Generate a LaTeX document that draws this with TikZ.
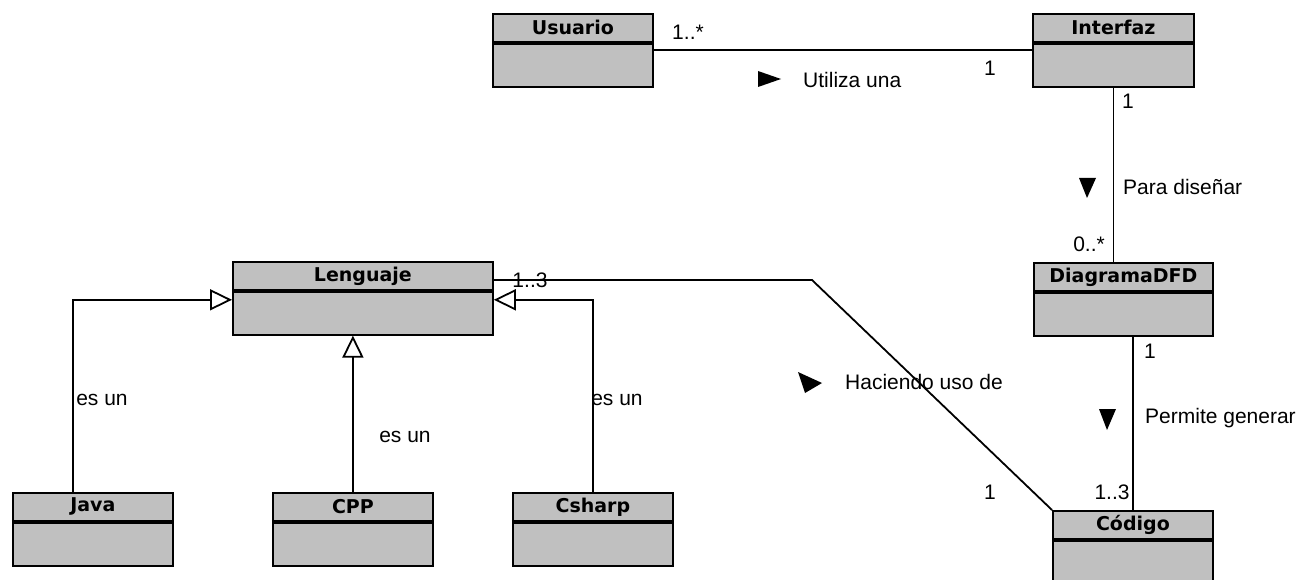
\documentclass[tikz,border=0pt]{standalone}
\usepackage{fontspec}
\setmainfont{Liberation Sans}
\newfontfamily\headfont{DejaVu Sans}
\usetikzlibrary{arrows.meta}
\definecolor{classgray}{RGB}{192,192,192}
\tikzset{
    head/.style={draw, line width=1.8pt, fill=classgray, anchor=north west,
        minimum height=28pt, inner sep=0pt,
        font=\headfont\bfseries\fontsize{19}{21}\selectfont},
    body/.style={draw, line width=1.8pt, fill=classgray, anchor=north,
        minimum height=43pt, inner sep=0pt},
    assoc/.style={line width=1.8pt},
    gen/.style={line width=1.8pt, -{Triangle[open, length=22pt, width=21pt, fill=white]}},
    lbl/.style={font=\fontsize{21}{24}\selectfont, inner sep=0pt},
}
\begin{document}
\begin{tikzpicture}[x=1pt, y=-1pt]
    \useasboundingbox (0,0) rectangle (1298,580);

    % classes
    \node[head, minimum width=160pt] (usuario) at (492,13) {Usuario};
    \node[body, minimum width=160pt] (usuarioB) at (usuario.south) {};
    \node[head, minimum width=161pt] (interfaz) at (1032,13) {Interfaz};
    \node[body, minimum width=161pt] (interfazB) at (interfaz.south) {};
    \node[head, minimum width=179pt] (diagrama) at (1033,262) {DiagramaDFD};
    \node[body, minimum width=179pt] (diagramaB) at (diagrama.south) {};
    \node[head, minimum width=160pt] (codigo) at (1052,510) {Código};
    \node[body, minimum width=160pt] (codigoB) at (codigo.south) {};
    \node[head, minimum width=260pt] (lenguaje) at (232,261) {Lenguaje};
    \node[body, minimum width=260pt] (lenguajeB) at (lenguaje.south) {};
    \node[head, minimum width=160pt] (java) at (12,492) {Java};
    \node[body, minimum width=160pt] (javaB) at (java.south) {};
    \node[head, minimum width=160pt] (cpp) at (272,492) {CPP};
    \node[body, minimum width=160pt] (cppB) at (cpp.south) {};
    \node[head, minimum width=160pt] (csharp) at (512,492) {Csharp};
    \node[body, minimum width=160pt] (csharpB) at (csharp.south) {};

    % associations
    \draw[assoc] ([yshift=-7pt]usuarioB.north east) -- ([yshift=-7pt]interfazB.north west);
    \draw[assoc] (interfazB.south) -- (interfazB.south |- diagrama.north);
    \draw[assoc] (codigo.north |- diagramaB.south) -- (codigo.north);
    \coordinate (bend) at (812,280);
    \draw[assoc] (lenguaje.east |- bend) -- (bend) -- (codigo.north west);

    % generalizations
    \draw[gen] ([xshift=-20pt]java.north) |- ([yshift=-9pt]lenguajeB.north west);
    \draw[gen] (cpp.north) -- (cpp.north |- lenguajeB.south);
    \draw[gen] (csharp.north) |- ([yshift=-9pt]lenguajeB.north east);

    % multiplicities
    \node[lbl] (m1) at (688,32) {1..*};
    \node[lbl] (m2) at (990,68) {1};
    \node[lbl] (m3) at (1128,101) {1};
    \node[lbl] (m4) at (1089,244) {0..*};
    \node[lbl] (m5) at (1150,351) {1};
    \node[lbl] (m6) at (1112,492) {1..3};
    \node[lbl] (m7) at (990,492) {1};
    \node[lbl] (m8) at (530,280) {1..3};

    % association names
    \fill (758,71) -- (781,79) -- (758,87) -- cycle;
    \node[lbl, anchor=west] (utiliza) at (803,80) {Utiliza una};
    \fill (1079,178) -- (1096,178) -- (1087,198) -- cycle;
    \node[lbl, anchor=west] (disenar) at (1123,187) {Para diseñar};
    \fill (1099,409) -- (1116,409) -- (1107,430) -- cycle;
    \node[lbl, anchor=west] (generar) at (1145,418) {Permite generar};
    \fill (798,372) -- (822,383) -- (805,393) -- cycle;
    \node[lbl, anchor=west] (haciendo) at (845,382) {Haciendo uso de};

    % generalization labels
    \node[lbl] (es1) at (102,400) {es un};
    \node[lbl] (es2) at (405,437) {es un};
    \node[lbl] (es3) at (617,400) {es un};
\end{tikzpicture}
\end{document}
